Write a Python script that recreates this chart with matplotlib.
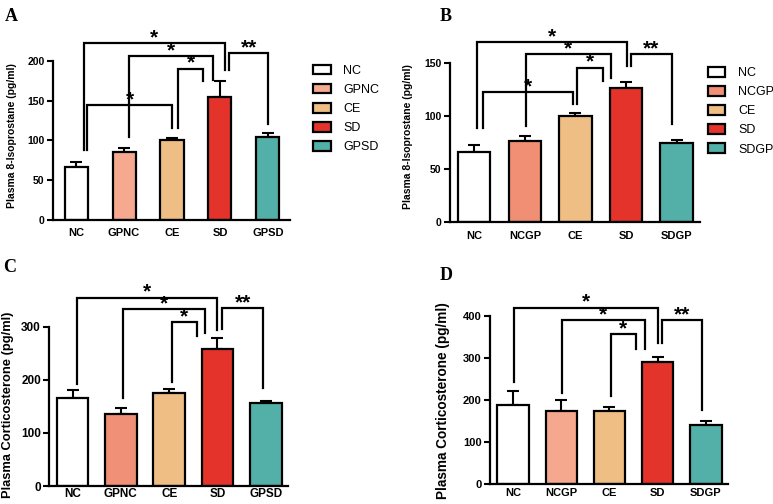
import numpy as np
import matplotlib
matplotlib.use('Agg')
import matplotlib.pyplot as plt

plt.rcParams['font.family'] = ['Liberation Sans', 'DejaVu Sans']

# ---- data ----
groups_A = ['NC', 'GPNC', 'CE', 'SD', 'GPSD']
mean_A = [66, 85, 100, 155, 104]
err_A = [7, 6, 3, 19, 5]

groups_B = ['NC', 'NCGP', 'CE', 'SD', 'SDGP']
mean_B = [66, 77, 100, 127, 74.5]
err_B = [7, 4, 3, 5, 3.5]

groups_C = ['NC', 'GPNC', 'CE', 'SD', 'GPSD']
mean_C = [165, 135, 175, 259, 156]
err_C = [15, 11, 8, 20, 5]

groups_D = ['NC', 'NCGP', 'CE', 'SD', 'SDGP']
mean_D = [188, 174, 174, 291, 142]
err_D = [34, 26, 9, 11, 9]

# significance brackets: (x left, x right, bar height, left leg end, right leg end, label)
brackets_A = [(0.16, 3.10, 222, 88, 188, '*'),
              (1.11, 2.85, 206, 104, 176, '*'),
              (2.13, 2.65, 190, 115, 174, '*'),
              (0.22, 2.01, 144, 88, 115, '*'),
              (3.19, 4.01, 210, 188, 121, '**')]
brackets_B = [(0.06, 3.01, 170, 89, 147, '*'),
              (1.02, 2.70, 159, 91, 136, '*'),
              (2.04, 2.55, 146, 112, 133, '*'),
              (0.17, 1.96, 123, 89, 112, '*'),
              (3.10, 3.90, 159, 147, 93, '**')]
brackets_C = [(0.09, 2.98, 355, 193, 294, '*'),
              (1.05, 2.75, 333, 166, 289, '*'),
              (2.06, 2.57, 309, 196, 282, '*'),
              (3.10, 3.95, 335, 296, 184, '**')]
brackets_D = [(0.02, 3.00, 420, 244, 336, '*'),
              (1.02, 2.73, 390, 216, 321, '*'),
              (2.04, 2.54, 356, 210, 321, '*'),
              (3.10, 3.92, 390, 336, 176, '**')]

colors_A = ['white', '#F5A98F', '#EEBE84', '#E3332B', '#52B0A9']
colors_B = ['white', '#F08F74', '#EEBE84', '#E3332B', '#52B0A9']
colors_C = ['white', '#F09177', '#EEBE84', '#E3332B', '#52B0A9']
colors_D = ['white', '#F5A88E', '#EEBE84', '#E3332B', '#52B0A9']

fig = plt.figure(figsize=(7.73, 5.04), dpi=100)

panels = [
    # rect, groups, mean, err, colors, brackets, ylim, yticks, ylabel, barwidth,
    # fonts(ytick, xtick, ylabel), xtick pad, label x, label y, legend anchor
    ([0.0686, 0.5635, 0.3066, 0.316], groups_A, mean_A, err_A, colors_A, brackets_A,
     200, [0, 50, 100, 150, 200], 'Plasma 8-Isoprostane (pg/ml)', 0.48, (7.5, 8, 7.5), 6,
     -0.15, 0.53, (1.097, 0.975)),
    ([0.5821, 0.5589, 0.3234, 0.3155], groups_B, mean_B, err_B, colors_B, brackets_B,
     150, [0, 50, 100, 150], 'Plasma 8-Isoprostane (pg/ml)', 0.64, (7.5, 8, 7.5), 6,
     -0.147, 0.54, (1.032, 0.977)),
    ([0.0638, 0.0357, 0.3088, 0.316], groups_C, mean_C, err_C, colors_C, brackets_C,
     300, [0, 100, 200, 300], 'Plasma Corticosterone (pg/ml)', 0.66, (8.5, 8.5, 9.3), 1.5,
     -0.148, 0.508, None),
    ([0.6339, 0.0391, 0.3079, 0.334], groups_D, mean_D, err_D, colors_D, brackets_D,
     400, [0, 100, 200, 300, 400], 'Plasma Corticosterone (pg/ml)', 0.65, (8, 8, 9.8), 3,
     -0.168, 0.50, None),
]

for (rect, groups, mean, err, cols, brackets, ymax, yticks, ylabel, bw,
     fs, xpad, lx, ly, leg) in panels:
    ax = fig.add_axes(rect)
    x = np.arange(len(groups))
    bars = ax.bar(x, mean, width=bw, color=cols, edgecolor='black', linewidth=1.6, zorder=2)
    ax.errorbar(x, mean, yerr=[np.zeros(len(err)), err], fmt='none', ecolor='black',
                elinewidth=1.5, capsize=4.5, capthick=1.5, zorder=1)
    ax.set_ylim(0, ymax)
    ax.set_xlim(-0.48, 4.46)
    ax.set_yticks(yticks)
    ax.set_xticks(x)
    ax.set_xticklabels(groups, fontsize=fs[1], fontweight='bold')
    ax.set_yticklabels([str(t) for t in yticks], fontsize=fs[0], fontweight='bold')
    ax.tick_params(axis='y', direction='out', length=4, width=1.5, pad=2)
    ax.tick_params(axis='x', length=0, pad=xpad)
    ax.set_ylabel(ylabel, fontsize=fs[2], fontweight='bold')
    ax.yaxis.set_label_coords(lx, ly)
    for s in ['top', 'right']:
        ax.spines[s].set_visible(False)
    for s in ['left', 'bottom']:
        ax.spines[s].set_linewidth(1.6)

    # significance brackets drawn above the axes
    for xl, xr, yb, yl, yr, lab in brackets:
        ax.plot([xl, xl, xr, xr], [yl, yb, yb, yr], color='black', lw=1.6,
                clip_on=False, solid_joinstyle='miter', zorder=3)
        ax.annotate(lab, xy=((xl + xr) / 2, yb), xytext=(0, -3), textcoords='offset points',
                    ha='center', va='bottom', fontsize=15, fontweight='bold', annotation_clip=False)

    if leg is not None:
        ax.legend(bars, groups, loc='upper left', bbox_to_anchor=leg, frameon=False,
                  fontsize=9, handlelength=1.4, handleheight=0.8, labelspacing=0.56,
                  handletextpad=1.0, borderpad=0, borderaxespad=0)

letters = [('A', 0.006, 0.985), ('B', 0.569, 0.985), ('C', 0.004, 0.487), ('D', 0.569, 0.470)]
for t, lx, ly in letters:
    fig.text(lx, ly, t, fontsize=13, fontweight='bold', family='Liberation Serif',
             ha='left', va='top')

fig.savefig('out.png', dpi=100)
